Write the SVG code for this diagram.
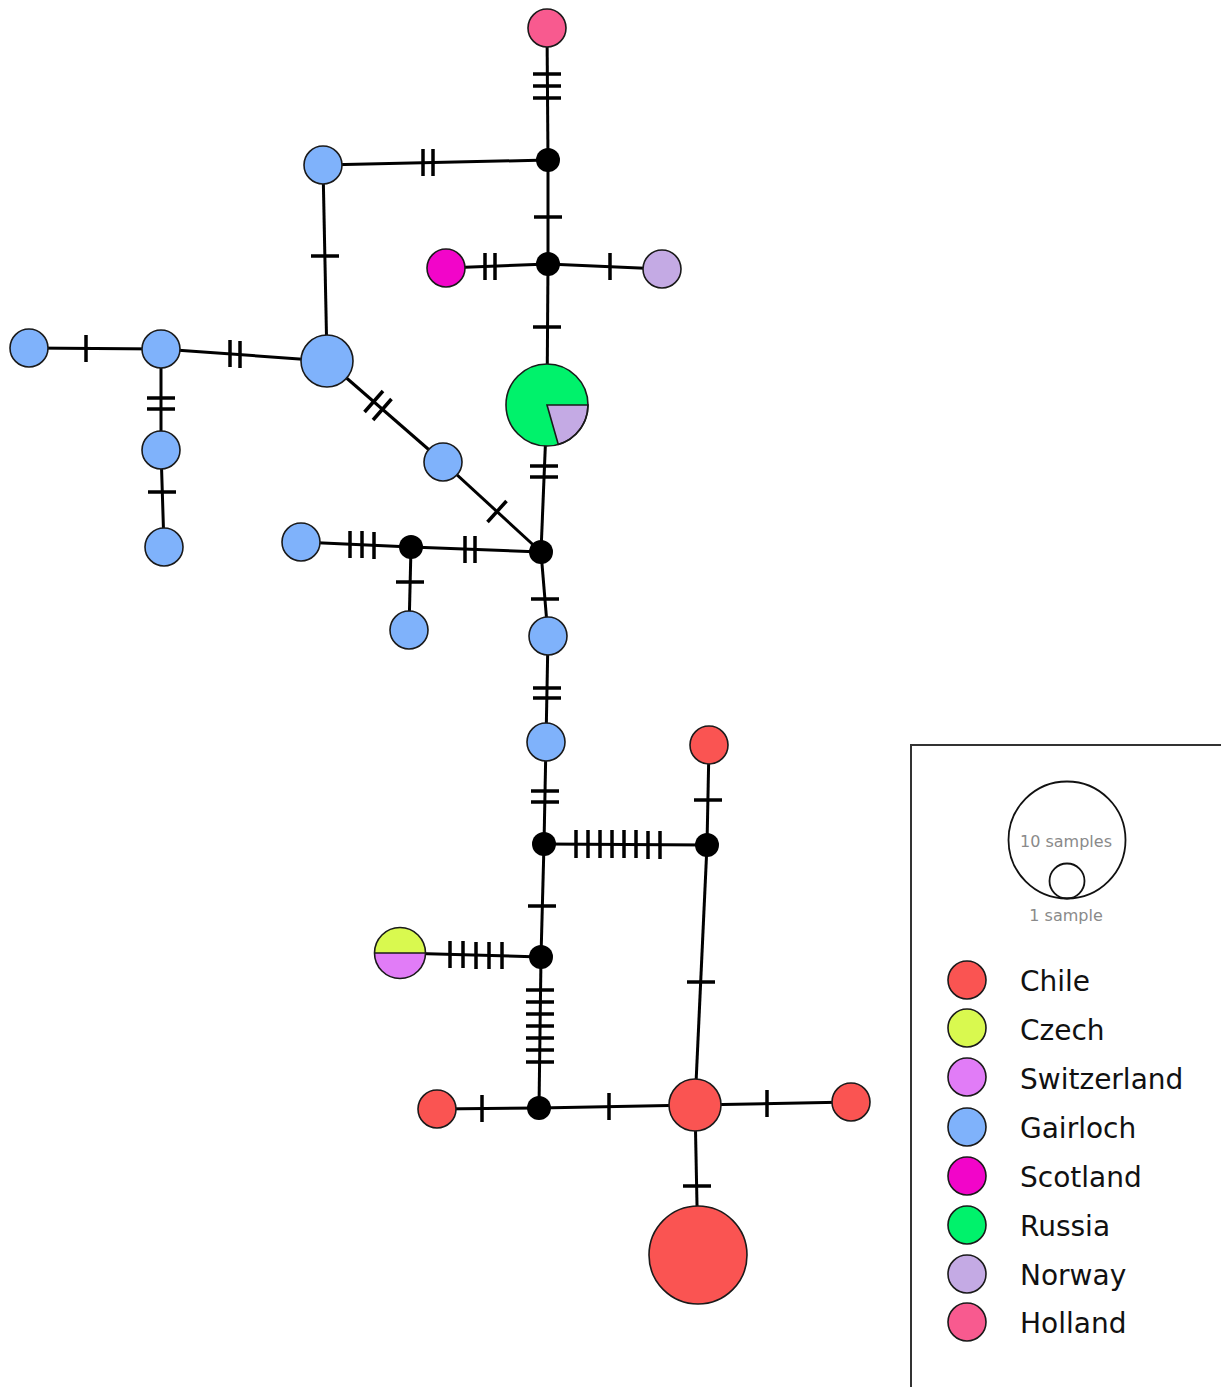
<svg xmlns="http://www.w3.org/2000/svg" width="1221" height="1387" viewBox="0 0 1221 1387">
<style>
.e{stroke:#000;stroke-width:3;fill:none}
.t{stroke:#000;stroke-width:3.5}
.n{stroke:#1a1a1a;stroke-width:1.6}
.m{fill:#000}
.chile{fill:#fa5452}
.czech{fill:#d9f94f}
.swiss{fill:#e17cf7}
.gair{fill:#7fb2fb}
.scot{fill:#f205c9}
.russ{fill:#00f26b}
.norw{fill:#c4aae4}
.holl{fill:#f85a8f}
.lt{font-family:"DejaVu Sans",Verdana,sans-serif;font-size:28px;fill:#111}
.st{font-family:"DejaVu Sans",Verdana,sans-serif;font-size:16px;fill:#8a8a8a;text-anchor:middle}
</style>
<rect width="1221" height="1387" fill="#fff"/>
<g id="connectors">
<g class="e">
<line x1="547" y1="28" x2="548" y2="160"/>
<line x1="323" y1="165" x2="548" y2="160"/>
<line x1="548" y1="160" x2="548" y2="264"/>
<line x1="323" y1="165" x2="327" y2="361"/>
<line x1="446" y1="268" x2="548" y2="264"/>
<line x1="548" y1="264" x2="662" y2="269"/>
<line x1="548" y1="264" x2="547" y2="405"/>
<line x1="29" y1="348" x2="161" y2="349"/>
<line x1="161" y1="349" x2="327" y2="361"/>
<line x1="161" y1="349" x2="161" y2="450"/>
<line x1="161" y1="450" x2="164" y2="547"/>
<line x1="327" y1="361" x2="443" y2="462"/>
<line x1="443" y1="462" x2="541" y2="552"/>
<line x1="547" y1="405" x2="541" y2="552"/>
<line x1="301" y1="542" x2="411" y2="547"/>
<line x1="411" y1="547" x2="541" y2="552"/>
<line x1="411" y1="547" x2="409" y2="630"/>
<line x1="541" y1="552" x2="548" y2="636"/>
<line x1="548" y1="636" x2="546" y2="742"/>
<line x1="546" y1="742" x2="544" y2="844"/>
<line x1="544" y1="844" x2="707" y2="845"/>
<line x1="707" y1="845" x2="709" y2="745"/>
<line x1="544" y1="844" x2="541" y2="957"/>
<line x1="400" y1="953" x2="541" y2="957"/>
<line x1="541" y1="957" x2="539" y2="1108"/>
<line x1="707" y1="845" x2="695" y2="1105"/>
<line x1="437" y1="1109" x2="539" y2="1108"/>
<line x1="539" y1="1108" x2="695" y2="1105"/>
<line x1="695" y1="1105" x2="851" y2="1102"/>
<line x1="695" y1="1105" x2="698" y2="1255"/>
</g>
<g class="t">
<line x1="533" y1="74" x2="561" y2="74"/><line x1="533" y1="86" x2="561" y2="86"/><line x1="533" y1="98" x2="561" y2="98"/>
<line x1="423" y1="149" x2="423" y2="176"/><line x1="433" y1="149" x2="433" y2="176"/>
<line x1="534" y1="217" x2="562" y2="217"/>
<line x1="311" y1="256" x2="339" y2="256"/>
<line x1="485" y1="253" x2="485" y2="280"/><line x1="495" y1="253" x2="495" y2="280"/>
<line x1="610" y1="253" x2="610" y2="280"/>
<line x1="533" y1="327" x2="561" y2="327"/>
<line x1="86" y1="335" x2="86" y2="362"/>
<line x1="230" y1="340" x2="230" y2="367"/><line x1="240" y1="341" x2="240" y2="368"/>
<line x1="147" y1="398" x2="175" y2="398"/><line x1="147" y1="409" x2="175" y2="409"/>
<line x1="148" y1="492" x2="176" y2="492"/>
<line x1="364.5" y1="412" x2="383" y2="391"/><line x1="373" y1="420" x2="391.5" y2="399"/>
<line x1="487.5" y1="522" x2="506.5" y2="501"/>
<line x1="530" y1="466" x2="558" y2="466"/><line x1="530" y1="477" x2="558" y2="477"/>
<line x1="350" y1="531" x2="350" y2="558"/><line x1="362" y1="531" x2="362" y2="558"/><line x1="374" y1="532" x2="374" y2="559"/>
<line x1="465" y1="536" x2="465" y2="563"/><line x1="475" y1="536" x2="475" y2="563"/>
<line x1="396" y1="582" x2="424" y2="582"/>
<line x1="531" y1="599" x2="559" y2="599"/>
<line x1="533" y1="688" x2="561" y2="688"/><line x1="533" y1="698" x2="561" y2="698"/>
<line x1="531" y1="791" x2="559" y2="791"/><line x1="531" y1="802" x2="559" y2="802"/>
<line x1="576" y1="830" x2="576" y2="858"/><line x1="588" y1="830" x2="588" y2="858"/><line x1="600" y1="830" x2="600" y2="858"/><line x1="612" y1="830" x2="612" y2="858"/><line x1="624" y1="830" x2="624" y2="858"/><line x1="636" y1="830" x2="636" y2="858"/><line x1="648" y1="831" x2="648" y2="859"/><line x1="660" y1="831" x2="660" y2="859"/>
<line x1="694" y1="800" x2="722" y2="800"/>
<line x1="528" y1="906" x2="556" y2="906"/>
<line x1="450" y1="941" x2="450" y2="968"/><line x1="463" y1="941" x2="463" y2="968"/><line x1="476" y1="942" x2="476" y2="969"/><line x1="489" y1="942" x2="489" y2="969"/><line x1="502" y1="942" x2="502" y2="969"/>
<line x1="526" y1="990" x2="554" y2="990"/><line x1="526" y1="1002" x2="554" y2="1002"/><line x1="526" y1="1014" x2="554" y2="1014"/><line x1="526" y1="1026" x2="554" y2="1026"/><line x1="526" y1="1038" x2="554" y2="1038"/><line x1="526" y1="1050" x2="554" y2="1050"/><line x1="526" y1="1062" x2="554" y2="1062"/>
<line x1="687" y1="982" x2="715" y2="982"/>
<line x1="482" y1="1095" x2="482" y2="1122"/>
<line x1="609" y1="1093" x2="609" y2="1120"/>
<line x1="767" y1="1090" x2="767" y2="1117"/>
<line x1="683" y1="1186" x2="711" y2="1186"/>
</g>
</g>
<g id="nodes">
<g id="holland1"><circle class="n holl" cx="547" cy="28" r="19"/></g>
<g id="median1"><circle class="m" cx="548" cy="160" r="12"/></g>
<g id="gairloch1"><circle class="n gair" cx="323" cy="165" r="19"/></g>
<g id="median2"><circle class="m" cx="548" cy="264" r="12"/></g>
<g id="scotland1"><circle class="n scot" cx="446" cy="268" r="19"/></g>
<g id="norway1"><circle class="n norw" cx="662" cy="269" r="19"/></g>
<g id="russia-norway">
<circle class="russ" cx="547" cy="405" r="41"/>
<path class="norw" d="M547,405 L588,405 A41,41 0 0 1 558.3,444.4 Z" stroke="#1a1a1a" stroke-width="1.6"/>
<circle cx="547" cy="405" r="41" fill="none" stroke="#1a1a1a" stroke-width="1.6"/>
</g>
<g id="gairloch2"><circle class="n gair" cx="327" cy="361" r="26"/></g>
<g id="gairloch3"><circle class="n gair" cx="161" cy="349" r="19"/></g>
<g id="gairloch4"><circle class="n gair" cx="29" cy="348" r="19"/></g>
<g id="gairloch5"><circle class="n gair" cx="161" cy="450" r="19"/></g>
<g id="gairloch6"><circle class="n gair" cx="164" cy="547" r="19"/></g>
<g id="gairloch7"><circle class="n gair" cx="443" cy="462" r="19"/></g>
<g id="median3"><circle class="m" cx="541" cy="552" r="12"/></g>
<g id="median4"><circle class="m" cx="411" cy="547" r="12"/></g>
<g id="gairloch8"><circle class="n gair" cx="301" cy="542" r="19"/></g>
<g id="gairloch9"><circle class="n gair" cx="409" cy="630" r="19"/></g>
<g id="gairloch10"><circle class="n gair" cx="548" cy="636" r="19"/></g>
<g id="gairloch11"><circle class="n gair" cx="546" cy="742" r="19"/></g>
<g id="median5"><circle class="m" cx="544" cy="844" r="12"/></g>
<g id="median6"><circle class="m" cx="707" cy="845" r="12"/></g>
<g id="chile1"><circle class="n chile" cx="709" cy="745" r="19"/></g>
<g id="median7"><circle class="m" cx="541" cy="957" r="12"/></g>
<g id="czech-switzerland">
<path class="czech" d="M374.5,953 A25.5,25.5 0 0 1 425.5,953 Z"/>
<path class="swiss" d="M374.5,953 A25.5,25.5 0 0 0 425.5,953 Z"/>
<line x1="374.5" y1="953" x2="425.5" y2="953" stroke="#1a1a1a" stroke-width="1.6"/>
<circle cx="400" cy="953" r="25.5" fill="none" stroke="#1a1a1a" stroke-width="1.6"/>
</g>
<g id="median8"><circle class="m" cx="539" cy="1108" r="12"/></g>
<g id="chile2"><circle class="n chile" cx="437" cy="1109" r="19"/></g>
<g id="chile3"><circle class="n chile" cx="695" cy="1105" r="26"/></g>
<g id="chile4"><circle class="n chile" cx="851" cy="1102" r="19"/></g>
<g id="chile5"><circle class="n chile" cx="698" cy="1255" r="49"/></g>
</g>
<g id="legend">
<rect x="911" y="745" width="330" height="680" fill="#fff" stroke="#333" stroke-width="2"/>
<circle cx="1067" cy="840" r="58.5" fill="none" stroke="#111" stroke-width="1.8"/>
<circle cx="1067" cy="881" r="17.5" fill="none" stroke="#111" stroke-width="1.8"/>
<text class="st" x="1066" y="847">10 samples</text>
<text class="st" x="1066" y="921">1 sample</text>
<circle class="n chile" cx="967" cy="980" r="19"/><text class="lt" x="1020" y="991">Chile</text>
<circle class="n czech" cx="967" cy="1028" r="19"/><text class="lt" x="1020" y="1040">Czech</text>
<circle class="n swiss" cx="967" cy="1077" r="19"/><text class="lt" x="1020" y="1089">Switzerland</text>
<circle class="n gair" cx="967" cy="1127" r="19"/><text class="lt" x="1020" y="1138">Gairloch</text>
<circle class="n scot" cx="967" cy="1176" r="19"/><text class="lt" x="1020" y="1187">Scotland</text>
<circle class="n russ" cx="967" cy="1225" r="19"/><text class="lt" x="1020" y="1236">Russia</text>
<circle class="n norw" cx="967" cy="1274" r="19"/><text class="lt" x="1020" y="1285">Norway</text>
<circle class="n holl" cx="967" cy="1322" r="19"/><text class="lt" x="1020" y="1333">Holland</text>
</g>
</svg>
